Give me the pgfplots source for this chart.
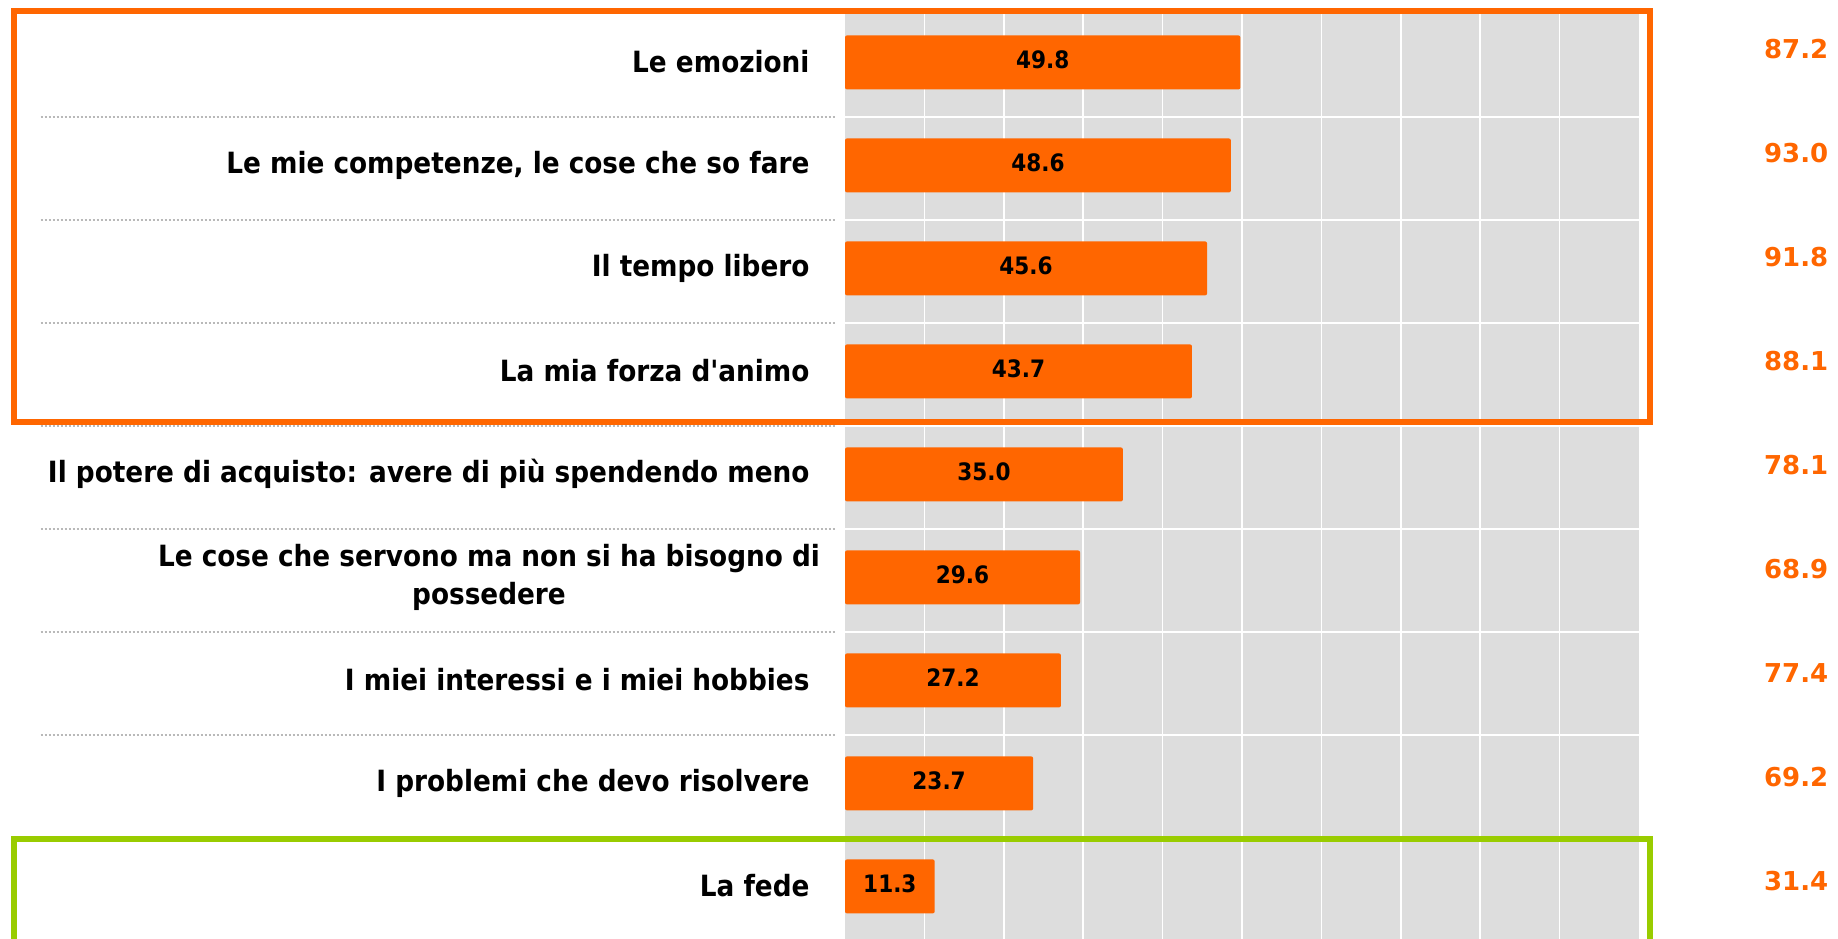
\documentclass[border=0pt]{standalone}
\usepackage{pgfplots}
\pgfplotsset{compat=1.18}
\usepackage{pgfplotstable}
\usepackage{fontspec}
\setmainfont{DejaVu Sans}
\newfontfamily\condb{DejaVu Sans Condensed Bold}[Ligatures=TeXOff]
\newfontfamily\valfont{DejaVu Sans Bold}
\definecolor{ora}{RGB}{255,102,0}
\definecolor{grn}{RGB}{153,204,0}
\definecolor{bgg}{RGB}{221,221,221}
\definecolor{dotc}{RGB}{185,185,185}

\pgfplotstableread{
y val tot
0 49.8 87.2
1 48.6 93.0
2 45.6 91.8
3 43.7 88.1
4 35.0 78.1
5 29.6 68.9
6 27.2 77.4
7 23.7 69.2
8 11.3 31.4
}\datatable

\begin{document}
\begin{tikzpicture}
\useasboundingbox (0,0) rectangle (735.2pt,375.2pt);
\begin{axis}[
  at={(338pt,369.6pt)}, anchor=north west,
  scale only axis, width=317.6pt, height=370.8pt,
  xmin=0, xmax=100, ymin=-0.5, ymax=8.5, y dir=reverse,
  axis background/.style={fill=bgg},
  axis line style={draw=none},
  xtick={10,20,...,90}, xticklabels={},
  xmajorgrids, grid style={white, line width=0.6pt},
  ytick={0,...,8},
  minor ytick={0.5,1.5,...,7.5}, yminorgrids,
  minor grid style={white, line width=0.6pt},
  major tick length=0pt, minor tick length=0pt,
  tick style={draw=none},
  yticklabels={Le emozioni, {Le mie competenze, le cose che so fare}, Il tempo libero, La mia forza d'animo, Il potere di acquisto: avere di più spendendo meno, {\begin{tabular}{@{}c@{}}Le cose che servono ma non si ha bisogno di\\[-1pt]possedere\end{tabular}\kern-4.2pt}, I miei interessi e i miei hobbies, I problemi che devo risolvere, La fede},
  yticklabel style={font=\condb\fontsize{11.7}{16.2}\selectfont, inner sep=0pt, xshift=-14pt, yshift=1.4pt, text=black},
  clip=false,
]
\addplot[xbar, bar width=21.6pt, fill=ora, draw=none, rounded corners=0.8pt] table[x=val, y expr=\thisrow{y}-0.03] {\datatable};
\addplot[draw=none, nodes near coords, point meta=explicit symbolic,
  nodes near coords style={anchor=center, text=black, font=\condb\fontsize{9.6}{11}\selectfont}]
  table[x expr=\thisrow{val}/2, y expr=\thisrow{y}-0.055, meta=val] {\datatable};
\addplot[draw=none, nodes near coords, point meta=explicit symbolic,
  nodes near coords style={anchor=east, inner sep=0pt, text=ora, font=\valfont\fontsize{10.4}{12}\selectfont}]
  table[x expr=123.9, y expr=\thisrow{y}*1.01-0.16, meta=tot] {\datatable};
\pgfplotsinvokeforeach{0.5,1.5,2.5,3.5,4.5,5.5,6.5,7.5}{
  \draw[dotc, line width=0.6pt, dash pattern=on 0.8pt off 0.8pt] (axis cs:-101.3,#1) -- (axis cs:-1.1,#1);
}
\draw[ora, line width=2.4pt] (axis cs:-104.66,-0.529) rectangle (axis cs:101.39,3.461);
\draw[grn, line width=2.4pt] (axis cs:-104.66,7.51) rectangle (axis cs:101.39,9.3);
\end{axis}
\end{tikzpicture}
\end{document}
